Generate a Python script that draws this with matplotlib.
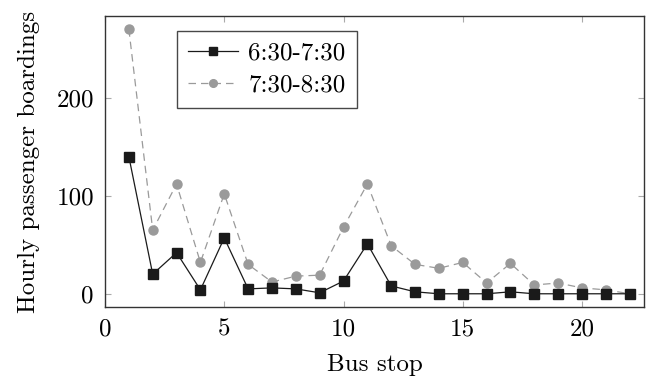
# Hourly passenger boardings per bus stop, two morning periods

import matplotlib
matplotlib.use('Agg')
import matplotlib.pyplot as plt

# data
stops = list(range(1, 23))
early = [140, 20, 42, 4, 57, 5, 6, 5, 1, 13, 51, 8, 2, 0, 0, 0, 2, 0, 0, 0, 0, 0]
late = [270, 65, 112, 32, 102, 30, 12, 18, 19, 68, 112, 49, 30, 26, 32, 11, 31, 9, 11, 6, 4, 0]
labels = ['6:30-7:30', '7:30-8:30']

# computer modern look, falling back per glyph
plt.rcParams['font.family'] = ['cmr10', 'DejaVu Serif']
plt.rcParams['mathtext.fontset'] = 'cm'
plt.rcParams['axes.unicode_minus'] = False

fig = plt.figure(figsize=(6.47, 3.76), dpi=100)
ax = fig.add_axes([0.1623, 0.1835, 0.8331, 0.7739])

gray = '#9a9a9a'
ax.plot(stops, early, color='#1a1a1a', lw=0.9, marker='s', ms=7, label=labels[0], zorder=3)
ax.plot(stops, late, color=gray, lw=0.9, ls=(0, (6, 4)), marker='o', ms=6.5,
        mec=gray, mfc=gray, label=labels[1], zorder=2)

ax.set_xlim(0, 22.6)
ax.set_ylim(-13.5, 283.5)
ax.set_xticks([0, 5, 10, 15, 20])
ax.set_yticks([0, 100, 200])

ax.tick_params(direction='in', length=4, width=0.8, color='#aaaaaa',
               top=True, right=True, labelsize=18)
ax.tick_params(axis='x', pad=8)
ax.tick_params(axis='y', pad=8)
for s in ax.spines.values():
    s.set_linewidth(1.0)
    s.set_color('#333333')

ax.set_xlabel('Bus stop', fontsize=18, labelpad=10)
ax.set_ylabel('Hourly passenger boardings', fontsize=18, labelpad=12)

leg = ax.legend(loc='upper left', bbox_to_anchor=(0.1335, 0.95), fontsize=18,
                frameon=True, fancybox=False, edgecolor='#1a1a1a',
                handlelength=2.0, handletextpad=0.4, borderpad=0.45,
                labelspacing=0.4, borderaxespad=0, markerscale=0.85)
leg.get_frame().set_linewidth(1.0)

plt.savefig('out.png', dpi=100)
